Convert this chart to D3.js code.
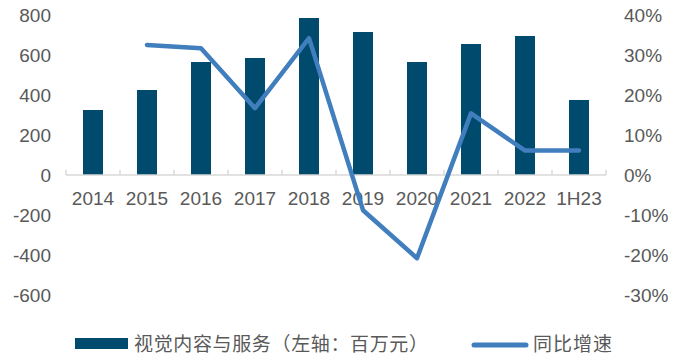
<!DOCTYPE html>
<html>
<head>
<meta charset="utf-8">
<script src="https://cdn.jsdelivr.net/npm/d3@7"></script>
<style>
  body { margin: 0; background: #fff; }
  text { font-family: "Liberation Sans", Arial, sans-serif; }
</style>
</head>
<body>
<div id="container"></div>
<script>
// chart data
var categories = ["2014", "2015", "2016", "2017", "2018", "2019", "2020", "2021", "2022", "1H23"];
var revenue = [325, 425, 565, 585, 785, 715, 565, 655, 695, 375];   // 百万元
var growth = [null, 32.5, 31.7, 16.7, 34.2, -8.8, -20.8, 15.4, 6.1, 6.1]; // %
var leftTicks = [-600, -400, -200, 0, 200, 400, 600, 800];
var rightTicks = [-30, -20, -10, 0, 10, 20, 30, 40];
var barName = "视觉内容与服务（左轴：百万元）";
var lineName = "同比增速";

var width = 688, height = 360;
var plot = {left: 66, right: 606, top: 15, bottom: 295};

var barColor = "#004A6E", lineColor = "#417EBD", textColor = "#595959";

var svg = d3.select("#container")
  .append("svg")
    .attr("width", width)
    .attr("height", height);

var x = d3.scaleBand()
  .domain(categories)
  .range([plot.left, plot.right])
  .paddingInner(0.63)
  .paddingOuter(0.315);

var xFull = d3.scaleBand()
  .domain(categories)
  .range([plot.left, plot.right]);

var yL = d3.scaleLinear().domain([-600, 800]).range([plot.bottom, plot.top]);
var yR = d3.scaleLinear().domain([-30, 40]).range([plot.bottom, plot.top]);

// left axis labels
svg.selectAll(".lt")
  .data(leftTicks)
  .enter()
  .append("text")
    .attr("x", 51)
    .attr("y", function(d){ return yL(d); })
    .attr("dy", "0.36em")
    .attr("text-anchor", "end")
    .attr("font-size", "19px")
    .attr("fill", textColor)
    .text(function(d){ return d; });

// right axis labels
svg.selectAll(".rt")
  .data(rightTicks)
  .enter()
  .append("text")
    .attr("x", 624)
    .attr("y", function(d){ return yR(d); })
    .attr("dy", "0.36em")
    .attr("text-anchor", "start")
    .attr("font-size", "19px")
    .attr("fill", textColor)
    .text(function(d){ return d + "%"; });

// bars
svg.selectAll("rect.bar")
  .data(revenue)
  .enter()
  .append("rect")
    .attr("class", "bar")
    .attr("x", function(d, i){ return x(categories[i]); })
    .attr("y", function(d){ return yL(d); })
    .attr("width", x.bandwidth())
    .attr("height", function(d){ return yL(0) - yL(d); })
    .attr("fill", barColor);

// category axis line + ticks
var y0 = yL(0);
svg.append("line")
  .attr("x1", plot.left).attr("x2", plot.right)
  .attr("y1", y0).attr("y2", y0)
  .attr("stroke", "#D9D9D9").attr("stroke-width", 1.5);

var tickPos = categories.map(function(c){ return xFull(c); }).concat([plot.right]);
svg.selectAll(".xtick")
  .data(tickPos)
  .enter()
  .append("line")
    .attr("x1", function(d){ return d; })
    .attr("x2", function(d){ return d; })
    .attr("y1", y0 - 5).attr("y2", y0)
    .attr("stroke", "#D9D9D9").attr("stroke-width", 1.5);

// category labels
svg.selectAll(".xl")
  .data(categories)
  .enter()
  .append("text")
    .attr("x", function(d){ return xFull(d) + xFull.bandwidth() / 2; })
    .attr("y", 205)
    .attr("text-anchor", "middle")
    .attr("font-size", "19px")
    .attr("fill", textColor)
    .text(function(d){ return d; });

// growth line
var line = d3.line()
  .defined(function(d){ return d != null; })
  .x(function(d, i){ return xFull(categories[i]) + xFull.bandwidth() / 2; })
  .y(function(d){ return yR(d); });

svg.append("path")
  .datum(growth)
  .attr("d", line)
  .attr("fill", "none")
  .attr("stroke", lineColor)
  .attr("stroke-width", 4.5)
  .attr("stroke-linejoin", "round")
  .attr("stroke-linecap", "round");

// legend
var cjk = '"Noto Sans CJK SC", "Noto Sans", sans-serif';
svg.append("rect")
  .attr("x", 75).attr("y", 338)
  .attr("width", 53).attr("height", 11)
  .attr("fill", barColor);
svg.append("text")
  .attr("x", 134).attr("y", 351)
  .attr("font-size", "19px")
  .attr("fill", textColor)
  .attr("textLength", 294)
  .attr("lengthAdjust", "spacing")
  .style("font-family", cjk)
  .text(barName);

svg.append("line")
  .attr("x1", 474).attr("x2", 526)
  .attr("y1", 345).attr("y2", 345)
  .attr("stroke", lineColor)
  .attr("stroke-width", 5)
  .attr("stroke-linecap", "round");
svg.append("text")
  .attr("x", 533).attr("y", 351)
  .attr("font-size", "19px")
  .attr("fill", textColor)
  .attr("textLength", 79)
  .attr("lengthAdjust", "spacing")
  .style("font-family", cjk)
  .text(lineName);
</script>
</body>
</html>
